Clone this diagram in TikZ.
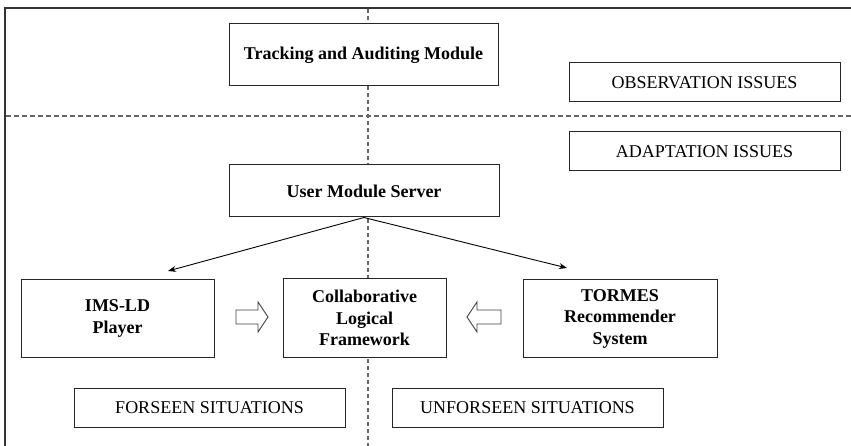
\documentclass[tikz,border=0pt]{standalone}
\usepackage{fontspec}
\setmainfont{Liberation Serif}
\usetikzlibrary{arrows.meta}
\begin{document}
\begin{tikzpicture}[x=1pt,y=-1pt,
  box/.style={draw=black!85,line width=1pt,fill=white,inner sep=0pt,align=center},
  boldbox/.style={box,font=\fontsize{18}{21.5}\selectfont\bfseries},
  plainbox/.style={box,font=\fontsize{18}{21}\selectfont},
  frameline/.style={draw=black!80,line width=1.1pt},
  hdivider/.style={draw=black!60,line width=1.1pt,dash pattern=on 5pt off 3pt},
  vdivider/.style={draw=black!60,line width=1.1pt,dash pattern=on 4pt off 3pt},
  link/.style={draw=black,line width=0.9pt,-{Stealth[length=8pt,width=6pt]}},
  hollow/.style={draw=black!75,line width=0.9pt,fill=white}]
\useasboundingbox (0,0) rectangle (851,446);
% outer frame
\coordinate (fTL) at (5,8);
\coordinate (fTR) at (851,8);
\coordinate (fBL) at (5,446);
\draw[frameline] (fTR) -- (fTL) -- (fBL);
% dividers
\coordinate (vTop) at (368,9);
\coordinate (vBot) at (368,446);
\coordinate (hL) at (6,116);
\coordinate (hR) at (851,116);
\draw[vdivider] (vTop) -- (vBot);
\draw[hdivider] (hL) -- (hR);
% boxes
\node[boldbox,minimum width=269,minimum height=62] (track) at (363.5,55) {Tracking and Auditing Module};
\node[plainbox,minimum width=271,minimum height=39] (obs) at (704.5,82.5) {OBSERVATION ISSUES};
\node[plainbox,minimum width=271,minimum height=39] (adapt) at (704.5,151.5) {ADAPTATION ISSUES};
\node[boldbox,minimum width=270,minimum height=52] (ums) at (364,191) {User Module Server};
\node[boldbox,minimum width=193,minimum height=77] (ims) at (117.5,318.5) {IMS-LD\\Player};
\node[boldbox,minimum width=163,minimum height=78] (clf) at (364.5,318) {Collaborative\\Logical\\Framework};
\node[boldbox,minimum width=194,minimum height=77] (tormes) at (620,318.5) {TORMES\\Recommender\\System};
\node[plainbox,minimum width=271,minimum height=39] (fore) at (209.5,407.5) {FORSEEN SITUATIONS};
\node[plainbox,minimum width=271,minimum height=39] (unfore) at (527.5,407.5) {UNFORSEEN SITUATIONS};
% arrows from user module server
\coordinate (tipL) at (168,271);
\coordinate (tipR) at (567,268);
\draw[link] (ums.south) -- (tipL);
\draw[link] (ums.south) -- (tipR);
% hollow block arrows
\draw[hollow] (236,310) -- (258,310) -- (258,302) -- (268,317) -- (258,332) -- (258,324) -- (236,324) -- cycle;
\draw[hollow] (501,310) -- (477,310) -- (477,302) -- (467,317) -- (477,332) -- (477,324) -- (501,324) -- cycle;
\end{tikzpicture}
\end{document}
